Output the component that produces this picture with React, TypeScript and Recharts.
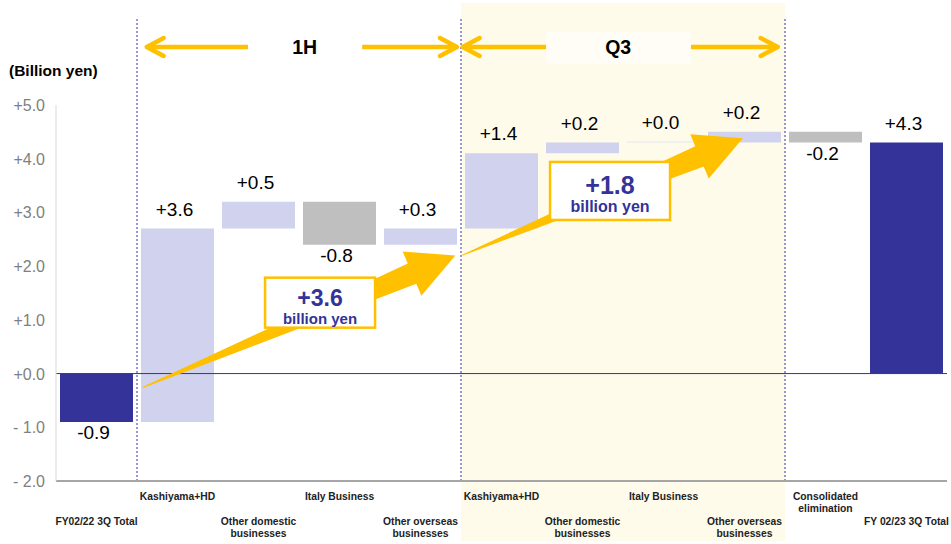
import {
  BarChart,
  Bar,
  XAxis,
  YAxis,
  Cell,
  LabelList,
  ReferenceArea,
  ReferenceLine,
  ReferenceDot,
} from 'recharts'

// categories along the bottom (multi-line labels split into rows)
const categoryLines: string[][] = [
  ['FY02/22 3Q Total'],
  ['Kashiyama+HD'],
  ['Other domestic', 'businesses'],
  ['Italy Business'],
  ['Other overseas', 'businesses'],
  ['Kashiyama+HD'],
  ['Other domestic', 'businesses'],
  ['Italy Business'],
  ['Other overseas', 'businesses'],
  ['Consolidated', 'elimination'],
  ['FY 02/23 3Q Total'],
]

// change per step (billion yen); totals are absolute
const deltas = [-0.9, 3.6, 0.5, -0.8, 0.3, 1.4, 0.2, 0.0, 0.2, -0.2, 4.3]
const totalFlags = [true, false, false, false, false, false, false, false, false, false, true]

const yTicks = [-2, -1, 0, 1, 2, 3, 4, 5]

const FONT = "Arial, 'Liberation Sans', sans-serif"
const NAVY = '#333399'
const LAVENDER = '#D0D2EE'
const GREY = '#BFBFBF'
const GOLD = '#FFC000'

const fmtDelta = (v: number) => (v >= 0 ? `+${v.toFixed(1)}` : v.toFixed(1))
const fmtTick = (v: number) => (v >= 0 ? `+${v.toFixed(1)}` : `- ${Math.abs(v).toFixed(1)}`)

// waterfall: each bar is a [low, high] range
let running = 0
const data = categoryLines.map((lines, i) => {
  const v = deltas[i]
  let lo: number
  let hi: number
  if (totalFlags[i]) {
    lo = Math.min(0, v)
    hi = Math.max(0, v)
    running = v
  } else {
    const end = running + v
    lo = Math.min(running, end)
    hi = Math.max(running, end)
    running = end
  }
  return { name: lines.join(' '), range: [lo, hi], label: fmtDelta(v), slot: i + 0.5 }
})

const barColor = (i: number) => {
  if (totalFlags[i]) return NAVY
  if (deltas[i] === 0) return '#E4E5F2'
  return deltas[i] < 0 ? GREY : LAVENDER
}

const YTick = ({ x, y, payload }: any) => (
  <text x={x} y={y} dy={6} textAnchor="end" fill="#7F7F7F" fontSize={16} fontFamily={FONT}>
    {fmtTick(payload.value)}
  </text>
)

const CategoryTick = ({ x, y, payload, index }: any) => {
  const i = payload?.index ?? index
  const lines = categoryLines[i] || []
  const base = i % 2 === 1 ? 19 : 44
  return (
    <text x={x} y={y} textAnchor="middle" fill="#222" fontSize={10.3} fontWeight="bold" fontFamily={FONT}>
      {lines.map((l, k) => (
        <tspan key={k} x={x} y={y + base + k * 12}>
          {l}
        </tspan>
      ))}
    </text>
  )
}

const ValueLabel = (p: any) => {
  const { x, y, width, height, value } = p
  const s = String(value)
  const below = s.startsWith('-')
  const top = Math.min(y, y + height)
  const bottom = Math.max(y, y + height)
  const ty = below ? bottom + 10 + 7 : top - 20 + 7
  return (
    <text x={x + width / 2 - 3} y={ty} textAnchor="middle" fill="#000" fontSize={19} fontFamily={FONT}>
      {s}
    </text>
  )
}

// big tapered arrow
const FatArrow = (p: any) => {
  const { x1, y1, x2, y2 } = p
  const dx = x2 - x1
  const dy = y2 - y1
  const len = Math.hypot(dx, dy)
  const ux = dx / len
  const uy = dy / len
  const nx = -uy
  const ny = ux
  const headLen = 47
  const headHalf = 24
  const shaftHalf = 11
  const bx = x2 - ux * headLen
  const by = y2 - uy * headLen
  const pts = [
    [x1 + nx * 0.5, y1 + ny * 0.5],
    [bx + nx * shaftHalf, by + ny * shaftHalf],
    [bx + nx * headHalf, by + ny * headHalf],
    [x2, y2],
    [bx - nx * headHalf, by - ny * headHalf],
    [bx - nx * shaftHalf, by - ny * shaftHalf],
    [x1 - nx * 0.5, y1 - ny * 0.5],
  ]
  return <polygon points={pts.map((q) => q.join(',')).join(' ')} fill={GOLD} />
}

// thin line with open chevron head at (x2, y2)
const LineArrow = (p: any) => {
  const { x1, y1, x2, y2 } = p
  const dir = x2 > x1 ? 1 : -1
  return (
    <g>
      <line x1={x1} y1={y1} x2={x2 - dir * 2} y2={y2} stroke={GOLD} strokeWidth={4.5} />
      <polyline
        points={`${x2 - dir * 17},${y2 - 9} ${x2},${y2} ${x2 - dir * 17},${y2 + 9}`}
        fill="none"
        stroke={GOLD}
        strokeWidth={4.5}
        strokeLinecap="round"
        strokeLinejoin="round"
      />
    </g>
  )
}

const PeriodText = (text: string) => (p: any) => (
  <text x={p.cx} y={p.cy + 7} textAnchor="middle" fontSize={19.5} fontWeight="bold" fill="#000" fontFamily={FONT}>
    {text}
  </text>
)

const Callout = (big: string, w: number, h: number, bigSize: number, smallSize: number) => (p: any) => (
  <g>
    <rect x={p.cx - w / 2} y={p.cy - h / 2} width={w} height={h} fill="#fff" stroke={GOLD} strokeWidth={2.5} />
    <text x={p.cx} y={p.cy + 3} textAnchor="middle" fontSize={bigSize} fontWeight="bold" fill={NAVY} fontFamily={FONT}>
      {big}
    </text>
    <text x={p.cx} y={p.cy + 21} textAnchor="middle" fontSize={smallSize} fontWeight="bold" fill={NAVY} fontFamily={FONT}>
      billion yen
    </text>
  </g>
)

const ARROW_Y = 6.08

export default function App() {
  return (
    <div style={{ position: 'absolute', left: 0, top: 0, width: 951, height: 544, background: '#fff', fontFamily: FONT }}>
      <div style={{ position: 'absolute', left: 9, top: 62, fontSize: 15.5, fontWeight: 'bold', color: '#000' }}>
        (Billion yen)
      </div>
      <BarChart
        width={951}
        height={544}
        data={data}
        margin={{ top: 105, right: 4, bottom: 0, left: 0 }}
        barSize={73}
      >
        <ReferenceArea
          xAxisId="num"
          x1={5}
          x2={9}
          y1={-3.12}
          y2={6.9}
          fill="#FFFBEA"
          fillOpacity={1}
          stroke="none"
          ifOverflow="visible"
        />
        <ReferenceArea
          xAxisId="num"
          x1={6.05}
          x2={7.84}
          y1={5.76}
          y2={6.36}
          fill="#FFFDF5"
          fillOpacity={1}
          stroke="none"
          ifOverflow="visible"
        />
        <XAxis
          dataKey="name"
          interval={0}
          tickLine={false}
          tickSize={0}
          tickMargin={0}
          height={63}
          axisLine={{ stroke: '#A6A6A6', strokeWidth: 2 }}
          tick={<CategoryTick />}
        />
        <XAxis
          xAxisId="num"
          dataKey="slot"
          type="number"
          domain={[0, 11]}
          ticks={[0, 11]}
          hide
          allowDataOverflow
        />
        <YAxis
          width={56}
          domain={[-2, 5]}
          ticks={yTicks}
          interval={0}
          allowDataOverflow
          tickLine={false}
          tickSize={0}
          tickMargin={11}
          axisLine={{ stroke: '#D9D9D9' }}
          tick={<YTick />}
        />
        <Bar dataKey="range" isAnimationActive={false} minPointSize={1}>
          {data.map((_, i) => (
            <Cell key={i} fill={barColor(i)} />
          ))}
          <LabelList dataKey="label" content={<ValueLabel />} />
        </Bar>
        <ReferenceLine y={0} stroke={NAVY} strokeWidth={1} />
        {[1, 5, 9].map((x) => (
          <ReferenceLine
            key={x}
            xAxisId="num"
            segment={[
              { x, y: -2 },
              { x, y: 6.6 },
            ]}
            stroke="#3333AA"
            strokeDasharray="2 2"
            strokeWidth={1}
            ifOverflow="visible"
          />
        ))}
        <ReferenceLine
          xAxisId="num"
          segment={[
            { x: 1.07, y: -0.26 },
            { x: 4.93, y: 2.2 },
          ]}
          shape={<FatArrow />}
          ifOverflow="visible"
        />
        <ReferenceLine
          xAxisId="num"
          segment={[
            { x: 5.01, y: 2.2 },
            { x: 8.48, y: 4.38 },
          ]}
          shape={<FatArrow />}
          ifOverflow="visible"
        />
        <ReferenceDot xAxisId="num" x={3.26} y={1.32} r={0} shape={Callout('+3.6', 110, 50, 23, 15)} ifOverflow="visible" />
        <ReferenceDot xAxisId="num" x={6.84} y={3.4} r={0} shape={Callout('+1.8', 120, 58, 25, 16)} ifOverflow="visible" />
        {/* period arrows */}
        <ReferenceLine xAxisId="num" segment={[{ x: 2.37, y: ARROW_Y }, { x: 1.12, y: ARROW_Y }]} shape={<LineArrow />} ifOverflow="visible" />
        <ReferenceLine xAxisId="num" segment={[{ x: 3.78, y: ARROW_Y }, { x: 4.95, y: ARROW_Y }]} shape={<LineArrow />} ifOverflow="visible" />
        <ReferenceLine xAxisId="num" segment={[{ x: 6.05, y: ARROW_Y }, { x: 5.02, y: ARROW_Y }]} shape={<LineArrow />} ifOverflow="visible" />
        <ReferenceLine xAxisId="num" segment={[{ x: 7.84, y: ARROW_Y }, { x: 8.91, y: ARROW_Y }]} shape={<LineArrow />} ifOverflow="visible" />
        <ReferenceDot xAxisId="num" x={3.07} y={ARROW_Y} r={0} shape={PeriodText('1H')} ifOverflow="visible" />
        <ReferenceDot xAxisId="num" x={6.94} y={ARROW_Y} r={0} shape={PeriodText('Q3')} ifOverflow="visible" />
      </BarChart>
    </div>
  )
}
